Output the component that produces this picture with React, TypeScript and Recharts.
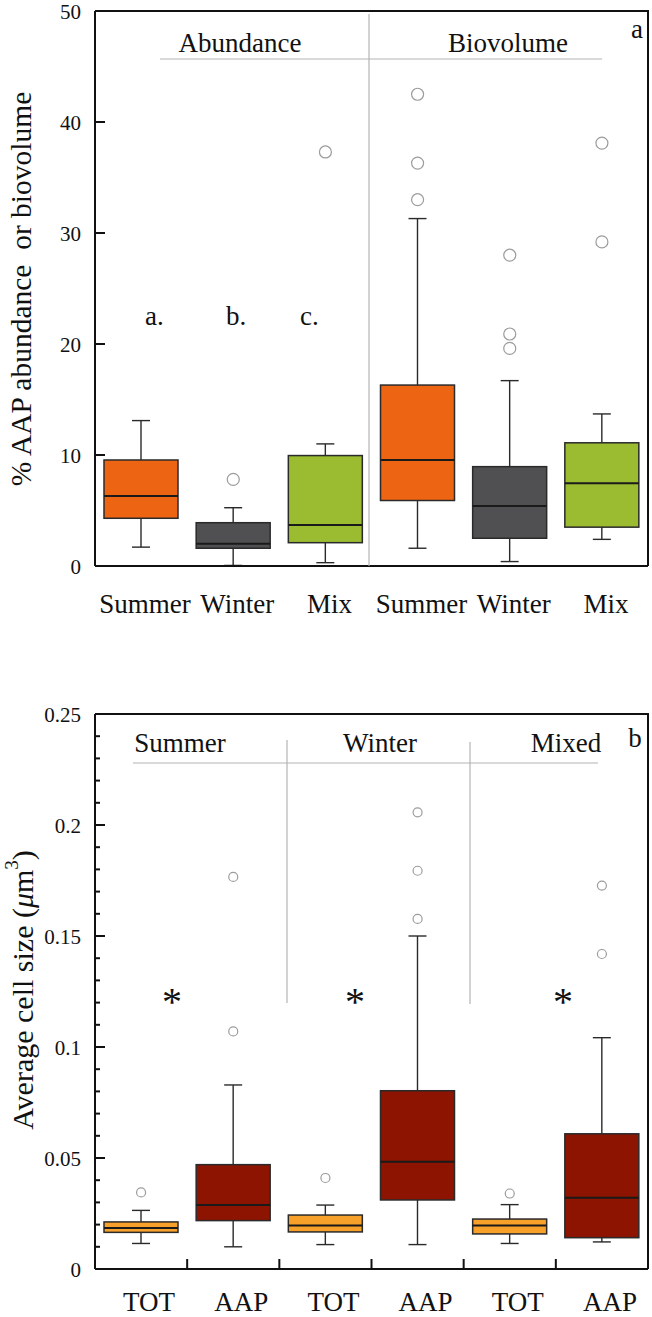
import React from "react";
import { ComposedChart, Bar, Scatter, XAxis, YAxis } from "recharts";

const serif = "'Liberation Serif', 'Times New Roman', serif";
const ink = "#2a2a2a";

// panel a: % AAP abundance / biovolume (whisker low, q1, median, q3, whisker high)
const aKeys = ["abSummer", "abWinter", "abMix", "bvSummer", "bvWinter", "bvMix"];
const aLabels = ["Summer", "Winter", "Mix", "Summer", "Winter", "Mix"];
const aLow = [1.7, 0.05, 0.3, 1.6, 0.4, 2.4];
const aQ1 = [4.3, 1.6, 2.1, 5.9, 2.5, 3.5];
const aMedian = [6.3, 2.0, 3.7, 9.55, 5.4, 7.45];
const aQ3 = [9.55, 3.9, 9.95, 16.3, 8.95, 11.1];
const aHigh = [13.1, 5.25, 11.0, 31.3, 16.7, 13.7];
const aOutliers = [[], [7.8], [37.3], [42.5, 36.3, 33.0], [28.0, 20.9, 19.6], [38.1, 29.2]];
const aTicks = [0, 10, 20, 30, 40, 50];
const aColors = ["#ED6512", "#505052", "#9BBB30", "#ED6512", "#505052", "#9BBB30"];

// panel b: average cell size, TOT vs AAP per season
const bKeys = ["sumTOT", "sumAAP", "winTOT", "winAAP", "mixTOT", "mixAAP"];
const bLabels = ["TOT", "AAP", "TOT", "AAP", "TOT", "AAP"];
const bLow = [0.0115, 0.01, 0.011, 0.011, 0.0115, 0.0122];
const bQ1 = [0.0165, 0.0218, 0.0167, 0.0311, 0.0158, 0.0141];
const bMedian = [0.0185, 0.0288, 0.0196, 0.0483, 0.0196, 0.0321];
const bQ3 = [0.0212, 0.047, 0.0243, 0.0803, 0.0225, 0.0609];
const bHigh = [0.0264, 0.0829, 0.0288, 0.15, 0.029, 0.1042];
const bOutliers = [[0.0345], [0.1766, 0.107], [0.041], [0.2057, 0.1794, 0.1577], [0.034], [0.1727, 0.1419]];
const bTicks = [
  0, 0.01, 0.02, 0.03, 0.04, 0.05, 0.06, 0.07, 0.08, 0.09, 0.1, 0.11, 0.12,
  0.13, 0.14, 0.15, 0.16, 0.17, 0.18, 0.19, 0.2, 0.21, 0.22, 0.23, 0.24, 0.25,
];
const bColors = ["#F8A12A", "#8C1400", "#F8A12A", "#8C1400", "#F8A12A", "#8C1400"];

const buildRows = (keys, labels, low, q1, med, q3, high, outliers) =>
  keys.map((key, i) => ({
    key,
    label: labels[i],
    lo: low[i],
    q1: q1[i],
    med: med[i],
    q3: q3[i],
    hi: high[i],
    o1: outliers[i][0] ?? null,
    o2: outliers[i][1] ?? null,
    o3: outliers[i][2] ?? null,
  }));

const rowsA = buildRows(aKeys, aLabels, aLow, aQ1, aMedian, aQ3, aHigh, aOutliers);
const rowsB = buildRows(bKeys, bLabels, bLow, bQ1, bMedian, bQ3, bHigh, bOutliers);

// plot frame (matches chart margins below)
const LEFT = 95;
const RIGHT = 648;
const A_TOP = 11;
const A_BOTTOM = 566;
const B_TOP = 714;
const B_BOTTOM = 1269;

function makeBoxShape(colors: string[]) {
  return (props: any) => {
    const { x, y, width, height, payload, index } = props;
    if (!payload || !isFinite(y) || !isFinite(height)) return <g />;
    const top = Math.min(y, y + height);
    const h = Math.abs(height);
    // map values inside the whisker range through the bar's own pixel span
    const toY = (v: number) => top + ((payload.hi - v) / (payload.hi - payload.lo)) * h;
    const cx = x + width / 2;
    const yq3 = toY(payload.q3);
    const yq1 = toY(payload.q1);
    const ym = toY(payload.med);
    return (
      <g>
        <line x1={cx} x2={cx} y1={top} y2={top + h} stroke={ink} strokeWidth={1.4} />
        <line x1={cx - 9} x2={cx + 9} y1={top} y2={top} stroke={ink} strokeWidth={1.4} />
        <line x1={cx - 9} x2={cx + 9} y1={top + h} y2={top + h} stroke={ink} strokeWidth={1.4} />
        <rect x={x} y={yq3} width={width} height={yq1 - yq3} fill={colors[index]} stroke={ink} strokeWidth={1.5} />
        <line x1={x} x2={x + width} y1={ym} y2={ym} stroke="#1a1a1a" strokeWidth={2} />
      </g>
    );
  };
}

const outlierShape = (field: string, r: number) => (props: any) => {
  const { cx, cy, payload } = props;
  if (!payload || payload[field] == null || !isFinite(cx) || !isFinite(cy)) return <g />;
  return <circle cx={cx} cy={cy} r={r} fill="none" stroke="#9c9c9c" strokeWidth={1.2} />;
};

const makeXTick = (keys: string[], labels: string[], dx: number, dy: number) => (props: any) => {
  const { x, y, payload } = props;
  const label = labels[keys.indexOf(payload.value)];
  return (
    <text x={x + dx} y={y + dy} textAnchor="middle" fontFamily={serif} fontSize={27} fill="#111">
      {label}
    </text>
  );
};

const fmt = (v: number) => String(parseFloat(v.toFixed(2)));

const makeYTick = (isMajor: (v: number) => boolean) => (props: any) => {
  const { x, y, payload } = props;
  const major = isMajor(payload.value);
  return (
    <g>
      <line x1={x} x2={x + (major ? 10 : 5)} y1={y} y2={y} stroke="#111" strokeWidth={2} />
      {major && (
        <text x={x - 14} y={y} dy={8} textAnchor="end" fontFamily={serif} fontSize={21} fill="#111">
          {fmt(payload.value)}
        </text>
      )}
    </g>
  );
};

const txt = { fontFamily: serif, fill: "#111" };

export default function App() {
  const band = (RIGHT - LEFT) / 6;
  return (
    <div style={{ position: "absolute", left: 0, top: 0, width: 652, height: 1317, background: "#fff" }}>
      <div style={{ position: "absolute", left: 0, top: 0 }}>
        <ComposedChart width={652} height={640} data={rowsA} margin={{ top: 11, right: 4, bottom: 0, left: 0 }}>
          <XAxis
            dataKey="key"
            interval={0}
            height={74}
            tickSize={0}
            tickMargin={0}
            tickLine={false}
            axisLine={{ stroke: "#111", strokeWidth: 2 }}
            tick={makeXTick(aKeys, aLabels, 4, 47)}
          />
          <YAxis
            type="number"
            domain={[0, 50]}
            ticks={aTicks}
            interval={0}
            width={95}
            tickSize={0}
            tickMargin={0}
            tickLine={false}
            axisLine={{ stroke: "#111", strokeWidth: 2 }}
            tick={makeYTick(() => true)}
          />
          <Bar dataKey={(d: any) => [d.lo, d.hi]} barSize={74} shape={makeBoxShape(aColors)} isAnimationActive={false} />
          <Scatter dataKey="o1" shape={outlierShape("o1", 6)} isAnimationActive={false} />
          <Scatter dataKey="o2" shape={outlierShape("o2", 6)} isAnimationActive={false} />
          <Scatter dataKey="o3" shape={outlierShape("o3", 6)} isAnimationActive={false} />
        </ComposedChart>
      </div>
      <div style={{ position: "absolute", left: 0, top: 660 }}>
        <ComposedChart width={652} height={657} data={rowsB} margin={{ top: 54, right: 4, bottom: 0, left: 0 }}>
          <XAxis
            dataKey="key"
            interval={0}
            height={48}
            tickSize={0}
            tickMargin={0}
            tickLine={false}
            axisLine={{ stroke: "#111", strokeWidth: 2 }}
            tick={makeXTick(bKeys, bLabels, 8, 42)}
          />
          <YAxis
            type="number"
            domain={[0, 0.25]}
            ticks={bTicks}
            interval={0}
            width={95}
            tickSize={0}
            tickMargin={0}
            tickLine={false}
            axisLine={{ stroke: "#111", strokeWidth: 2 }}
            tick={makeYTick((v) => Math.round(v * 100) % 5 === 0)}
          />
          <Bar dataKey={(d: any) => [d.lo, d.hi]} barSize={74} shape={makeBoxShape(bColors)} isAnimationActive={false} />
          <Scatter dataKey="o1" shape={outlierShape("o1", 4.5)} isAnimationActive={false} />
          <Scatter dataKey="o2" shape={outlierShape("o2", 4.5)} isAnimationActive={false} />
          <Scatter dataKey="o3" shape={outlierShape("o3", 4.5)} isAnimationActive={false} />
        </ComposedChart>
      </div>

      {/* frames, group dividers and annotations */}
      <svg width={652} height={1317} style={{ position: "absolute", left: 0, top: 0, pointerEvents: "none" }}>
        <polyline points={`${LEFT},${A_TOP} ${RIGHT},${A_TOP} ${RIGHT},${A_BOTTOM}`} fill="none" stroke="#111" strokeWidth={2} />
        <polyline points={`${LEFT},${B_TOP} ${RIGHT},${B_TOP} ${RIGHT},${B_BOTTOM}`} fill="none" stroke="#111" strokeWidth={2} />
        {[1, 2, 3, 4, 5].map((i) => (
          <line key={i} x1={LEFT + band * i} x2={LEFT + band * i} y1={B_BOTTOM - 10} y2={B_BOTTOM} stroke="#111" strokeWidth={2} />
        ))}

        {/* panel a */}
        <line x1={369} x2={369} y1={14} y2={A_BOTTOM} stroke="#b4b4b4" strokeWidth={1.2} />
        <line x1={160} x2={602} y1={59} y2={59} stroke="#b4b4b4" strokeWidth={1.2} />
        <text x={240} y={52} textAnchor="middle" fontSize={27} {...txt}>Abundance</text>
        <text x={508} y={52} textAnchor="middle" fontSize={27} {...txt}>Biovolume</text>
        <text x={637} y={38} textAnchor="middle" fontSize={27} {...txt}>a</text>
        <text x={145} y={325} fontSize={27} {...txt}>a.</text>
        <text x={226} y={325} fontSize={27} {...txt}>b.</text>
        <text x={300} y={325} fontSize={27} {...txt}>c.</text>
        <text x={21} y={289} transform="rotate(-90 21 289)" textAnchor="middle" dominantBaseline="central" fontSize={29.5} {...txt}>
          % AAP abundance{"\u00A0"} or biovolume
        </text>

        {/* panel b */}
        <line x1={287} x2={287} y1={740} y2={1003} stroke="#b4b4b4" strokeWidth={1.2} />
        <line x1={470} x2={470} y1={742} y2={1004} stroke="#b4b4b4" strokeWidth={1.2} />
        <line x1={133} x2={598} y1={763} y2={763} stroke="#b4b4b4" strokeWidth={1.2} />
        <text x={180} y={752} textAnchor="middle" fontSize={27} {...txt}>Summer</text>
        <text x={380} y={752} textAnchor="middle" fontSize={27} {...txt}>Winter</text>
        <text x={566} y={752} textAnchor="middle" fontSize={27} {...txt}>Mixed</text>
        <text x={635} y={747} textAnchor="middle" fontSize={27} {...txt}>b</text>
        <text x={172} y={1015} textAnchor="middle" fontSize={40} {...txt}>*</text>
        <text x={355} y={1015} textAnchor="middle" fontSize={40} {...txt}>*</text>
        <text x={563} y={1015} textAnchor="middle" fontSize={40} {...txt}>*</text>
        <text x={22} y={990} transform="rotate(-90 22 990)" textAnchor="middle" dominantBaseline="central" fontSize={30} {...txt}>
          Average cell size (<tspan fontStyle="italic">μ</tspan>m<tspan dy={-11} fontSize={19}>3</tspan><tspan dy={11}>)</tspan>
        </text>
      </svg>
    </div>
  );
}
